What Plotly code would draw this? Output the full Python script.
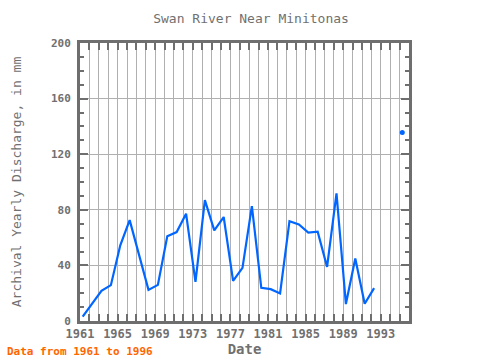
import plotly.graph_objects as go

# Data
years = [1961, 1962, 1963, 1964, 1965, 1966, 1967, 1968, 1969, 1970,
         1971, 1972, 1973, 1974, 1975, 1976, 1977, 1978, 1979, 1980,
         1981, 1982, 1983, 1984, 1985, 1986, 1987, 1988, 1989, 1990,
         1991, 1992, 1993, 1994, 1995]
discharge = [3.1, 12.4, 21.7, 25.8, 54.5, 72.6, 47.0, 22.4, 26.0, 61.0,
             64.0, 77.2, 28.2, 87.0, 65.2, 74.8, 28.9, 38.2, 82.7, 23.9,
             22.9, 19.8, 71.8, 69.5, 63.6, 64.3, 38.9, 91.8, 12.2, 45.0,
             12.4, 23.7, None, None, 135.7]
y_ticks = [0, 40, 80, 120, 160, 200]
x_tick_years = [1961, 1965, 1969, 1973, 1977, 1981, 1985, 1989, 1993]

dates = [f"{y}-04-15" for y in years]

# isolated points (no neighbours) shown as markers
iso_x, iso_y = [], []
for i, v in enumerate(discharge):
    if v is None:
        continue
    prev_ok = i > 0 and discharge[i - 1] is not None
    next_ok = i < len(discharge) - 1 and discharge[i + 1] is not None
    if not prev_ok and not next_ok:
        iso_x.append(dates[i])
        iso_y.append(v)

LINE = "#0066ff"
AXIS = "#6e6e6e"
GRID = "#b0b0b0"
TXT = "#707070"
FONT = "DejaVu Sans Mono"

fig = go.Figure()
fig.add_trace(go.Scatter(x=dates, y=discharge, mode="lines",
                         line=dict(color=LINE, width=2.2), connectgaps=False,
                         showlegend=False))
fig.add_trace(go.Scatter(x=iso_x, y=iso_y, mode="markers",
                         marker=dict(color=LINE, size=5), showlegend=False))

fig.update_layout(
    width=480, height=360,
    margin=dict(l=80, r=71, t=43, b=39),
    paper_bgcolor="white", plot_bgcolor="white",
    font=dict(family=FONT, color=TXT),
    title=dict(text="Swan River Near Minitonas", x=0.523, xanchor="center",
               xref="container", yref="container",
               y=1 - 18 / 360, yanchor="middle",
               font=dict(family=FONT, size=13, color=TXT)),
    xaxis=dict(
        type="date",
        automargin=False,
        range=["1961-01-01", "1996-01-01"],
        tickmode="array",
        tickvals=[f"{y}-01-01" for y in x_tick_years],
        ticktext=[str(y) for y in x_tick_years],
        ticks="inside", ticklen=7, tickwidth=2, tickcolor=AXIS,
        showgrid=True, gridcolor=GRID, gridwidth=1,
        minor=dict(dtick="M12", tick0="1961-01-01", ticks="inside", ticklen=7,
                   tickwidth=2, tickcolor=AXIS, showgrid=True, gridcolor=GRID,
                   gridwidth=1),
        showline=True, linecolor=AXIS, linewidth=3, mirror="allticks",
        tickfont=dict(family=FONT, size=12, color=TXT, weight="bold"),
        title=dict(text="<b>Date</b>", standoff=4,
                   font=dict(family=FONT, size=14, color=TXT)),
        zeroline=False,
    ),
    yaxis=dict(
        automargin=False,
        range=[0, 200],
        tickmode="array", tickvals=y_ticks,
        ticks="inside", ticklen=8, tickwidth=2, tickcolor=AXIS,
        showgrid=True, gridcolor=GRID, gridwidth=1,
        minor=dict(dtick=10, ticks="inside", ticklen=4, tickwidth=2,
                   tickcolor=AXIS, showgrid=False),
        showline=True, linecolor=AXIS, linewidth=3, mirror="allticks",
        tickfont=dict(family=FONT, size=11, color=TXT, weight="bold"),
        ticklabelstandoff=4,
        title=dict(text="Archival Yearly Discharge, in mm", standoff=27,
                   font=dict(family=FONT, size=13, color=TXT)),
        zeroline=False,
    ),
    annotations=[dict(text="<b>Data from 1961 to 1996</b>", xref="paper",
                      yref="paper", x=-0.228, y=-0.111, xanchor="left",
                      yanchor="middle", showarrow=False,
                      font=dict(family=FONT, size=11, color="#ff6600"))],
)

fig.write_html("out.html", config={"displayModeBar": False},
               post_script="document.body.style.margin='0';document.body.style.padding='0';")
